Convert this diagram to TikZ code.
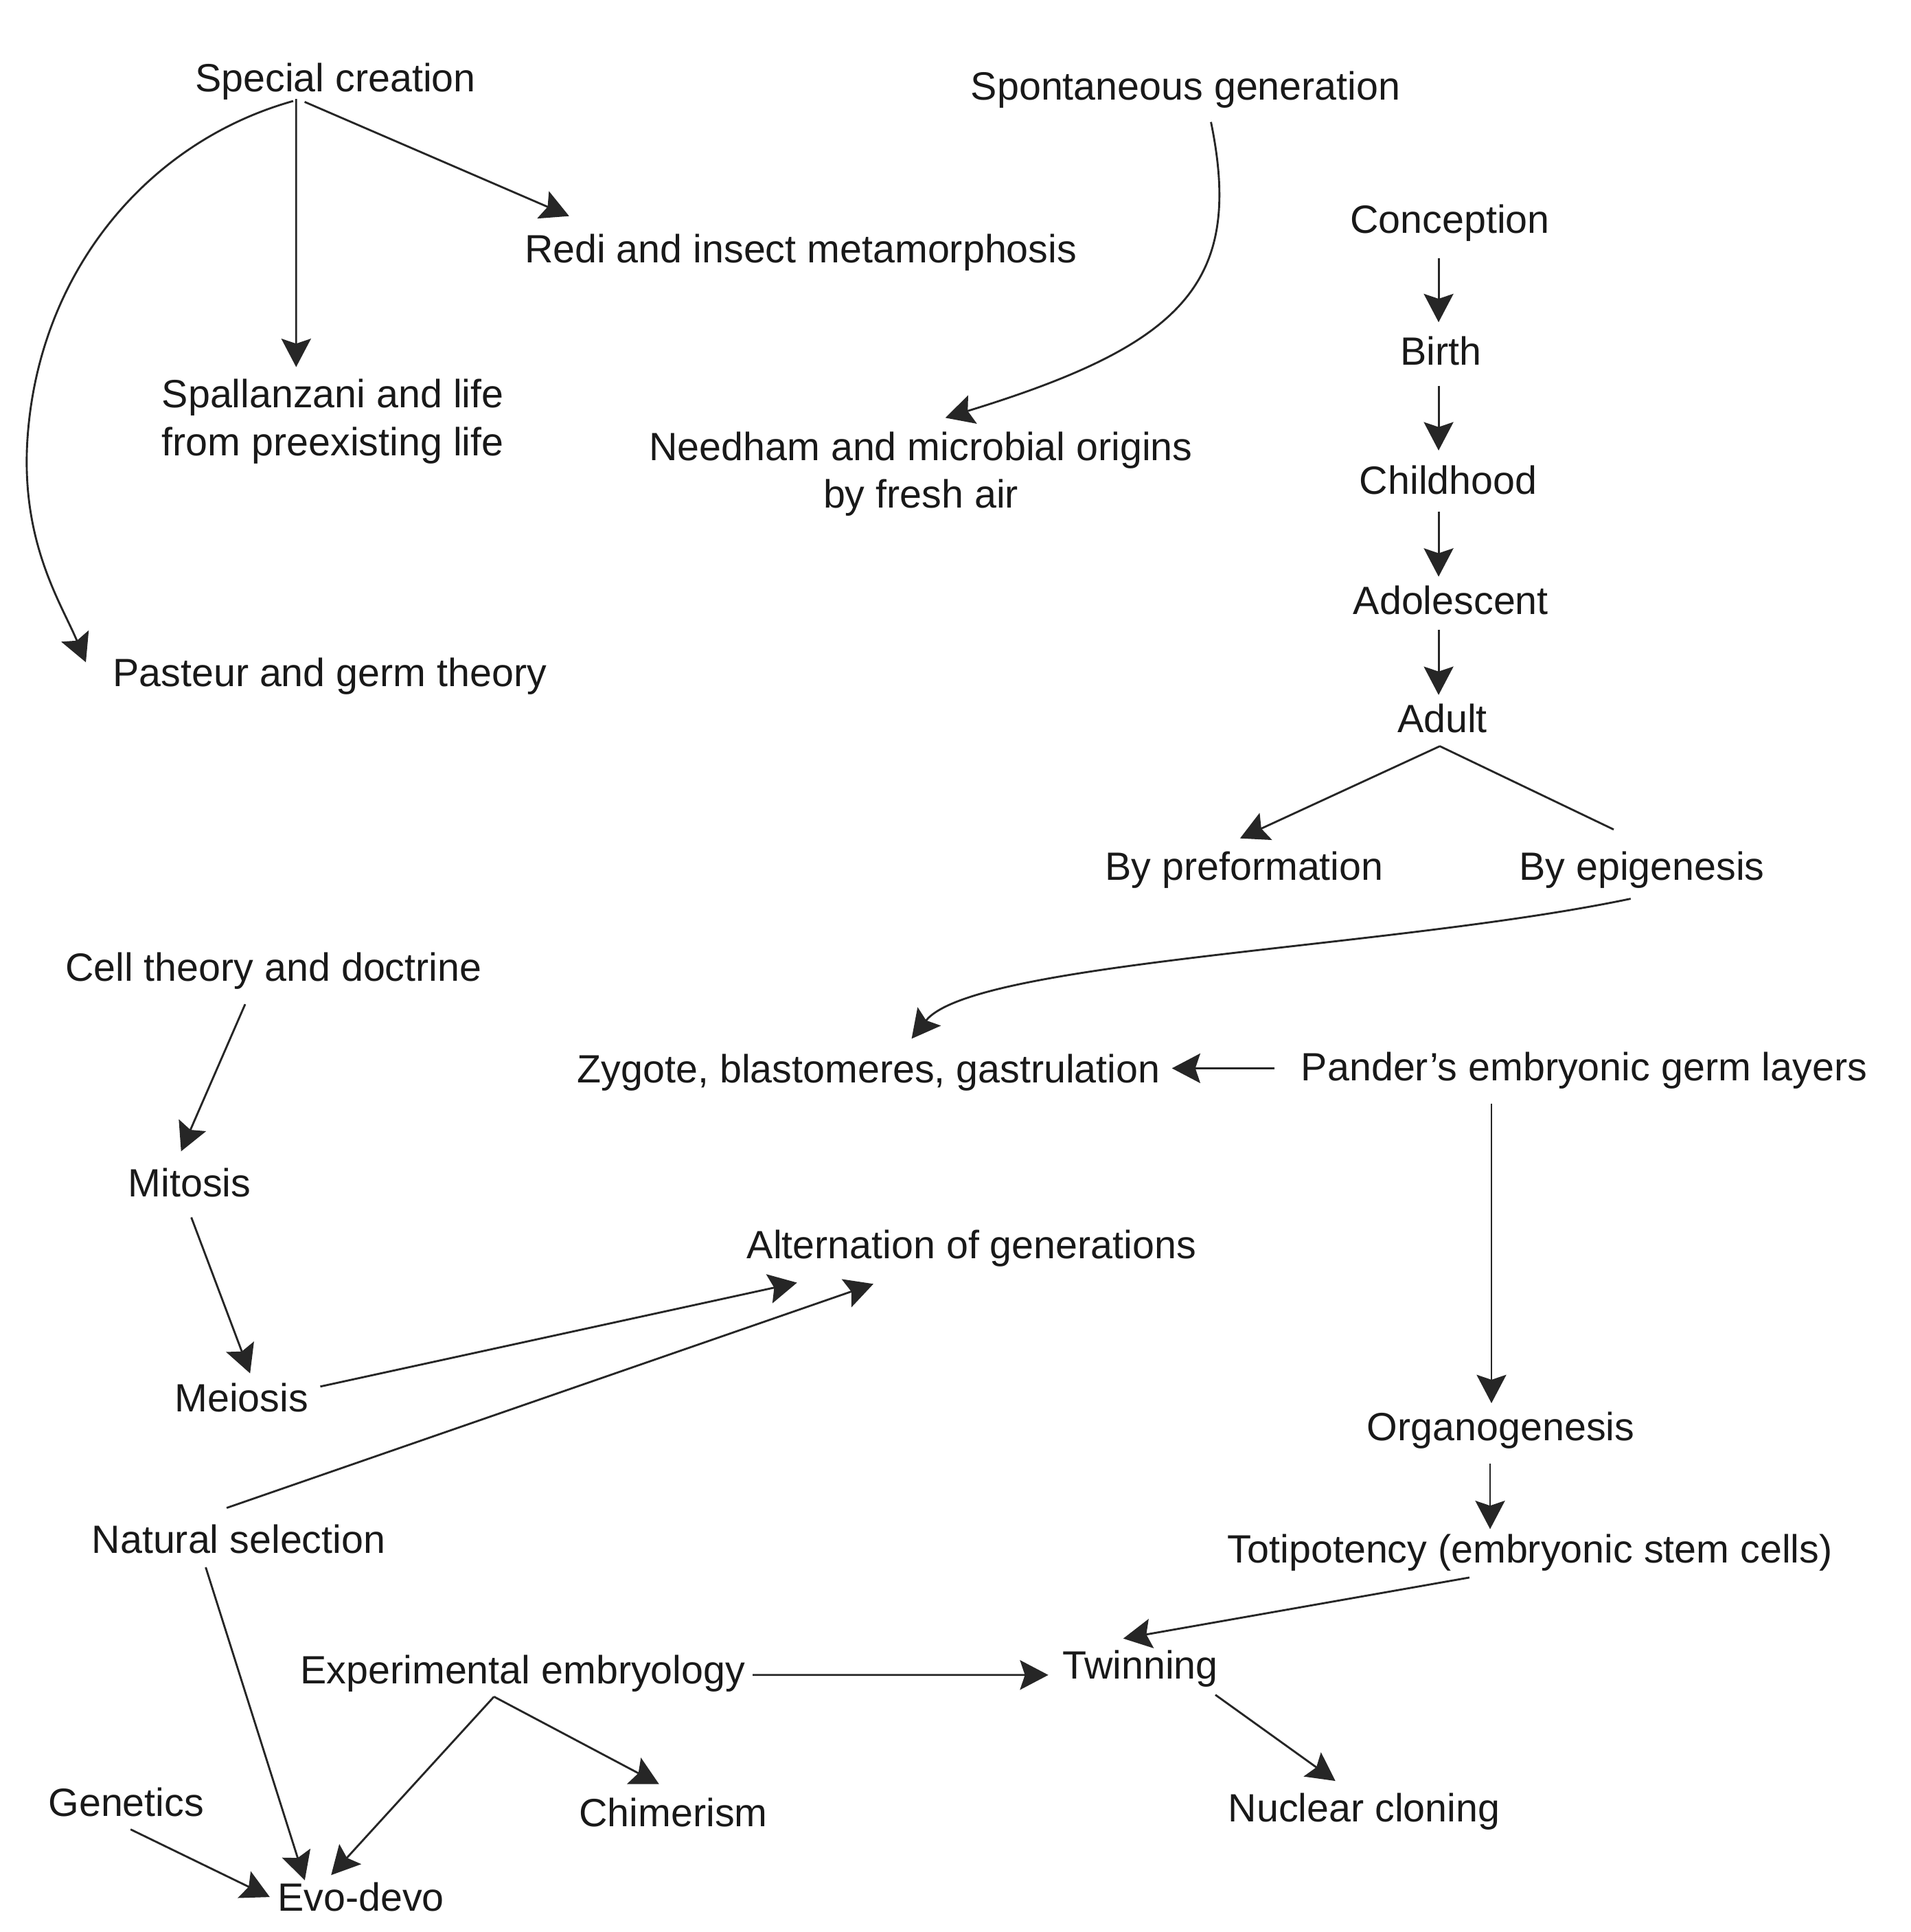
\documentclass[tikz,border=0pt]{standalone}
\usepackage{fontspec}
\setmainfont{Liberation Sans}
\usetikzlibrary{arrows.meta,calc}
\begin{document}
\begin{tikzpicture}[x=1pt,y=-1pt,
  lbl/.style={inner sep=0pt, font=\fontsize{32}{39}\selectfont, text=black!90, text height=23pt, text depth=0pt, anchor=center},
  lbltwo/.style={inner sep=0pt, font=\fontsize{32}{39}\selectfont, text=black!90, align=center, anchor=center},
  conn/.style={line width=1.6pt, draw=black!85},
  arr/.style={conn, -{Stealth[length=23pt,width=24pt,inset=4pt]}}]
\useasboundingbox (0,0) rectangle (1551,1568);

% nodes
\node[lbl] (sc) at (272.3,62.7) {Special creation};
\node[lbl] (sg) at (962.5,69.6) {Spontaneous generation};
\node[lbl] (redi) at (650,201.6) {Redi and insect metamorphosis};
\node[lbl] (conc) at (1177,177.5) {Conception};
\node[lbltwo] (spal) at (270.2,341.8) {Spallanzani and life\\from preexisting life};
\node[lbltwo] (need) at (747.5,384.7) {Needham and microbial origins\\by fresh air};
\node[lbl] (birth) at (1169.8,284.5) {Birth};
\node[lbl] (child) at (1175.7,389.6) {Childhood};
\node[lbl] (adol) at (1177.7,487) {Adolescent};
\node[lbl] (adult) at (1170.8,583) {Adult};
\node[lbl] (pas) at (267.7,545.7) {Pasteur and germ theory};
\node[lbl] (pref) at (1010,703) {By preformation};
\node[lbl] (epi) at (1332.8,703) {By epigenesis};
\node[lbl] (cell) at (222,785) {Cell theory and doctrine};
\node[lbl] (zyg) at (705.2,867.5) {Zygote, blastomeres, gastrulation};
\node[lbl] (pan) at (1286,865.5) {Pander’s embryonic germ layers};
\node[lbl] (mit) at (153.8,959.7) {Mitosis};
\node[lbl] (alt) at (788.7,1009.7) {Alternation of generations};
\node[lbl] (mei) at (196,1134.5) {Meiosis};
\node[lbl] (org) at (1218.3,1157.6) {Organogenesis};
\node[lbl] (nat) at (193.7,1249) {Natural selection};
\node[lbl] (toti) at (1242,1257) {Totipotency (embryonic stem cells)};
\node[lbl] (exp) at (424.4,1355) {Experimental embryology};
\node[lbl] (twin) at (925.5,1351.3) {Twinning};
\node[lbl] (gen) at (102.4,1462.6) {Genetics};
\node[lbl] (chim) at (546.5,1471) {Chimerism};
\node[lbl] (nuc) at (1107.3,1467) {Nuclear cloning};
\node[lbl] (evo) at (293,1539.6) {Evo-devo};

% connectors
\draw[arr] ($(sc)+(-31.9,17.6)$) -- ($(spal)+(-29.8,-43.9)$);
\draw[arr] ($(sc)+(-25,20)$) -- ($(redi)+(-188,-26.2)$);
\draw[arr] ($(sc)+(-34.3,19.3)$) .. controls (120,115) and (32,220) .. (22.4,354.6)
           .. controls (16.3,440) and (50,490) .. ($(pas)+(-198,-8.2)$);
\draw[arr] ($(sg)+(20.5,29.4)$) .. controls (1010,230) and (960,280) .. ($(need)+(19.9,-45.6)$);

\draw[arr] ($(conc)+(-9.2,32.2)$) -- ($(birth)+(-2,-23)$);
\draw[arr] ($(birth)+(-2,28.5)$) -- ($(child)+(-7.9,-24)$);
\draw[arr] ($(child)+(-7.9,25.4)$) -- ($(adol)+(-9.9,-19)$);
\draw[arr] ($(adol)+(-9.9,24)$) -- ($(adult)+(-3,-19)$);
\draw[arr] ($(adult)+(-2,22.6)$) -- ($(pref)+(-3.4,-22.6)$);
\draw[conn] ($(adult)+(-2,22.6)$) -- ($(epi)+(-22.9,-29.8)$);
\draw[arr] ($(epi)+(-9.1,26.4)$) .. controls (1130,770) and (790,780) .. ($(zyg)+(34.8,-24.5)$);

\draw[arr] ($(pan)+(-251.4,1.5)$) -- ($(zyg)+(246.1,-0.5)$);
\draw[arr] ($(pan)+(-75.3,30.2)$) -- ($(org)+(-7.6,-18.8)$);
\draw[arr] ($(org)+(-8.7,30.4)$) -- ($(toti)+(-32.4,-16)$);
\draw[arr] ($(toti)+(-49.2,23.3)$) -- ($(twin)+(-13.7,-21.5)$);

\draw[arr] ($(cell)+(-23,30)$) -- ($(mit)+(-6.8,-25.3)$);
\draw[arr] ($(mit)+(1.5,28.3)$) -- ($(mei)+(7,-19.9)$);
\draw[arr] ($(mei)+(64,-9.2)$) -- ($(alt)+(-141.7,31.3)$);
\draw[arr] ($(nat)+(-9.7,-25.2)$) -- ($(alt)+(-79.7,32.3)$);
\draw[arr] ($(nat)+(-26.7,23)$) -- ($(evo)+(-45.6,-13.6)$);

\draw[arr] ($(exp)+(186.6,4.4)$) -- ($(twin)+(-74.5,8.1)$);
\draw[arr] ($(exp)+(-23.4,22)$) -- ($(chim)+(-11.5,-23)$);
\draw[arr] ($(exp)+(-23.4,22)$) -- ($(evo)+(-24.2,-17.8)$);
\draw[arr] ($(gen)+(3.6,22.1)$) -- ($(evo)+(-74,0)$);
\draw[arr] ($(twin)+(61.1,24.2)$) -- ($(nuc)+(-23.3,-21.6)$);
\end{tikzpicture}
\end{document}
